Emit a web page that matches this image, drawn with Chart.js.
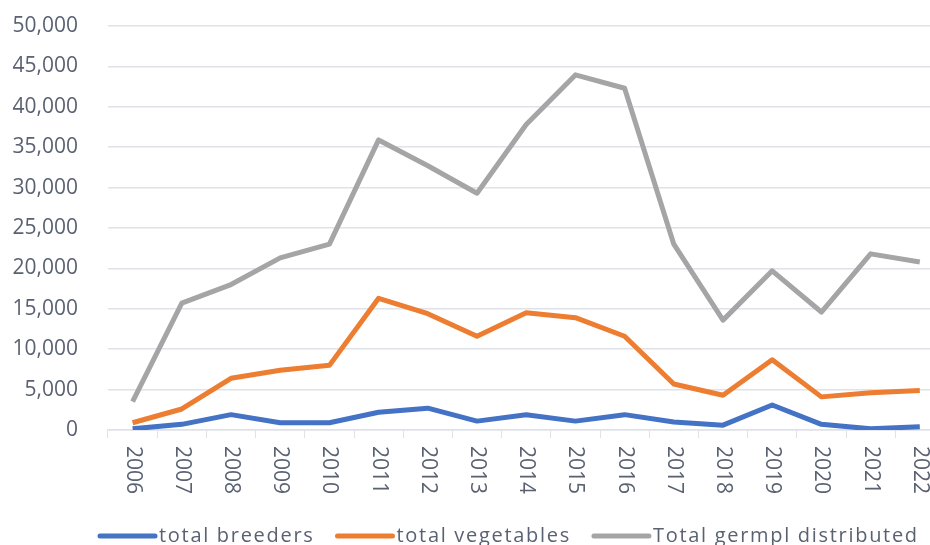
<!DOCTYPE html>
<html>
<head>
<meta charset="utf-8">
<script src="https://cdn.jsdelivr.net/npm/chart.js@4"></script>
<style>
  html, body { margin: 0; padding: 0; background: #fff; overflow: hidden; }
  #wrap { position: relative; width: 951px; height: 545px; }
</style>
</head>
<body>
<div id="wrap"><canvas id="chart"></canvas></div>
<script>
const YEARS = ['2006','2007','2008','2009','2010','2011','2012','2013','2014','2015','2016','2017','2018','2019','2020','2021','2022'];
const BREEDERS = [150, 700, 1900, 900, 900, 2200, 2700, 1100, 1900, 1100, 1900, 1000, 600, 3100, 700, 150, 400];
const VEGETABLES = [900, 2600, 6400, 7400, 8000, 16300, 14400, 11600, 14500, 13900, 11600, 5700, 4300, 8700, 4100, 4600, 4900];
const GERMPLASM = [3500, 15700, 18000, 21300, 23000, 35900, 32700, 29300, 37800, 43950, 42300, 23000, 13600, 19700, 14600, 21800, 20800];
const Y_TICKS = [0, 5000, 10000, 15000, 20000, 25000, 30000, 35000, 40000, 45000, 50000];

const TEXT = '#5a6272';
const GRID = '#dfe2e8';
const TICK_FONT = { family: 'Open Sans', size: 21 };

// x labels read top-to-bottom, so draw them ourselves
const downLabels = {
    id: 'downLabels',
    afterDraw(chart) {
        const xs = chart.scales.x;
        const ctx = chart.ctx;
        ctx.save();
        ctx.fillStyle = TEXT;
        ctx.font = `${TICK_FONT.size}px ${TICK_FONT.family}`;
        ctx.textAlign = 'left';
        ctx.textBaseline = 'middle';
        YEARS.forEach((y, i) => {
            ctx.save();
            ctx.translate(xs.getPixelForTick(i), xs.top + 16);
            ctx.rotate(Math.PI / 2);
            ctx.fillText(y, 0, 0);
            ctx.restore();
        });
        ctx.restore();
    }
};

// legend along the bottom edge, letter spaced like the original
const spacedLegend = {
    id: 'spacedLegend',
    afterDraw(chart) {
        const ctx = chart.ctx;
        ctx.save();
        ctx.font = '20px Open Sans';
        ctx.letterSpacing = '1.7px';
        ctx.textBaseline = 'alphabetic';
        ctx.lineCap = 'round';
        ctx.lineWidth = 5;
        let x = 100;
        chart.data.datasets.forEach(ds => {
            ctx.strokeStyle = ds.borderColor;
            ctx.beginPath();
            ctx.moveTo(x, 536);
            ctx.lineTo(x + 55, 536);
            ctx.stroke();
            x += 59;
            ctx.fillStyle = TEXT;
            ctx.fillText(ds.label, x, 542);
            x += ctx.measureText(ds.label).width + 23;
        });
        ctx.restore();
    }
};

const series = [
    { label: 'total breeders', data: BREEDERS, color: '#4472c4' },
    { label: 'total vegetables', data: VEGETABLES, color: '#ed7d31' },
    { label: 'Total germpl distributed', data: GERMPLASM, color: '#a5a5a5' },
];

new Chart(document.getElementById('chart'), {
    type: 'line',
    data: {
        labels: YEARS,
        datasets: series.map(s => ({
            label: s.label,
            data: s.data,
            borderColor: s.color,
            backgroundColor: s.color,
            borderWidth: 5,
            pointRadius: 0,
            tension: 0,
            borderJoinStyle: 'round',
        }))
    },
    options: {
        responsive: true,
        maintainAspectRatio: false,
        animation: false,
        layout: { padding: { top: 26, left: 0, right: 0, bottom: 23 } },
        plugins: {
            tooltip: { enabled: false },
            legend: { display: false }
        },
        scales: {
            x: {
                offset: true,
                grid: { drawOnChartArea: false, drawTicks: true, tickLength: 8, color: GRID, offset: true },
                border: { color: GRID, width: 1.5 },
                ticks: { color: 'rgba(0,0,0,0)', font: TICK_FONT, minRotation: 90, maxRotation: 90, padding: 6 },
                afterFit: s => { s.height = 92; }
            },
            y: {
                min: 0,
                max: 50000,
                afterBuildTicks: s => { s.ticks = Y_TICKS.map(v => ({ value: v })); },
                grid: { color: GRID, lineWidth: 1.5, drawTicks: false },
                border: { display: false },
                ticks: {
                    color: TEXT,
                    font: TICK_FONT,
                    padding: 30,
                    callback: v => v.toLocaleString('en-US')
                },
                afterFit: s => { s.width = 108; s.paddingTop = 0; s.paddingBottom = 0; }
            }
        }
    },
    plugins: [downLabels, spacedLegend]
});
</script>
</body>
</html>
